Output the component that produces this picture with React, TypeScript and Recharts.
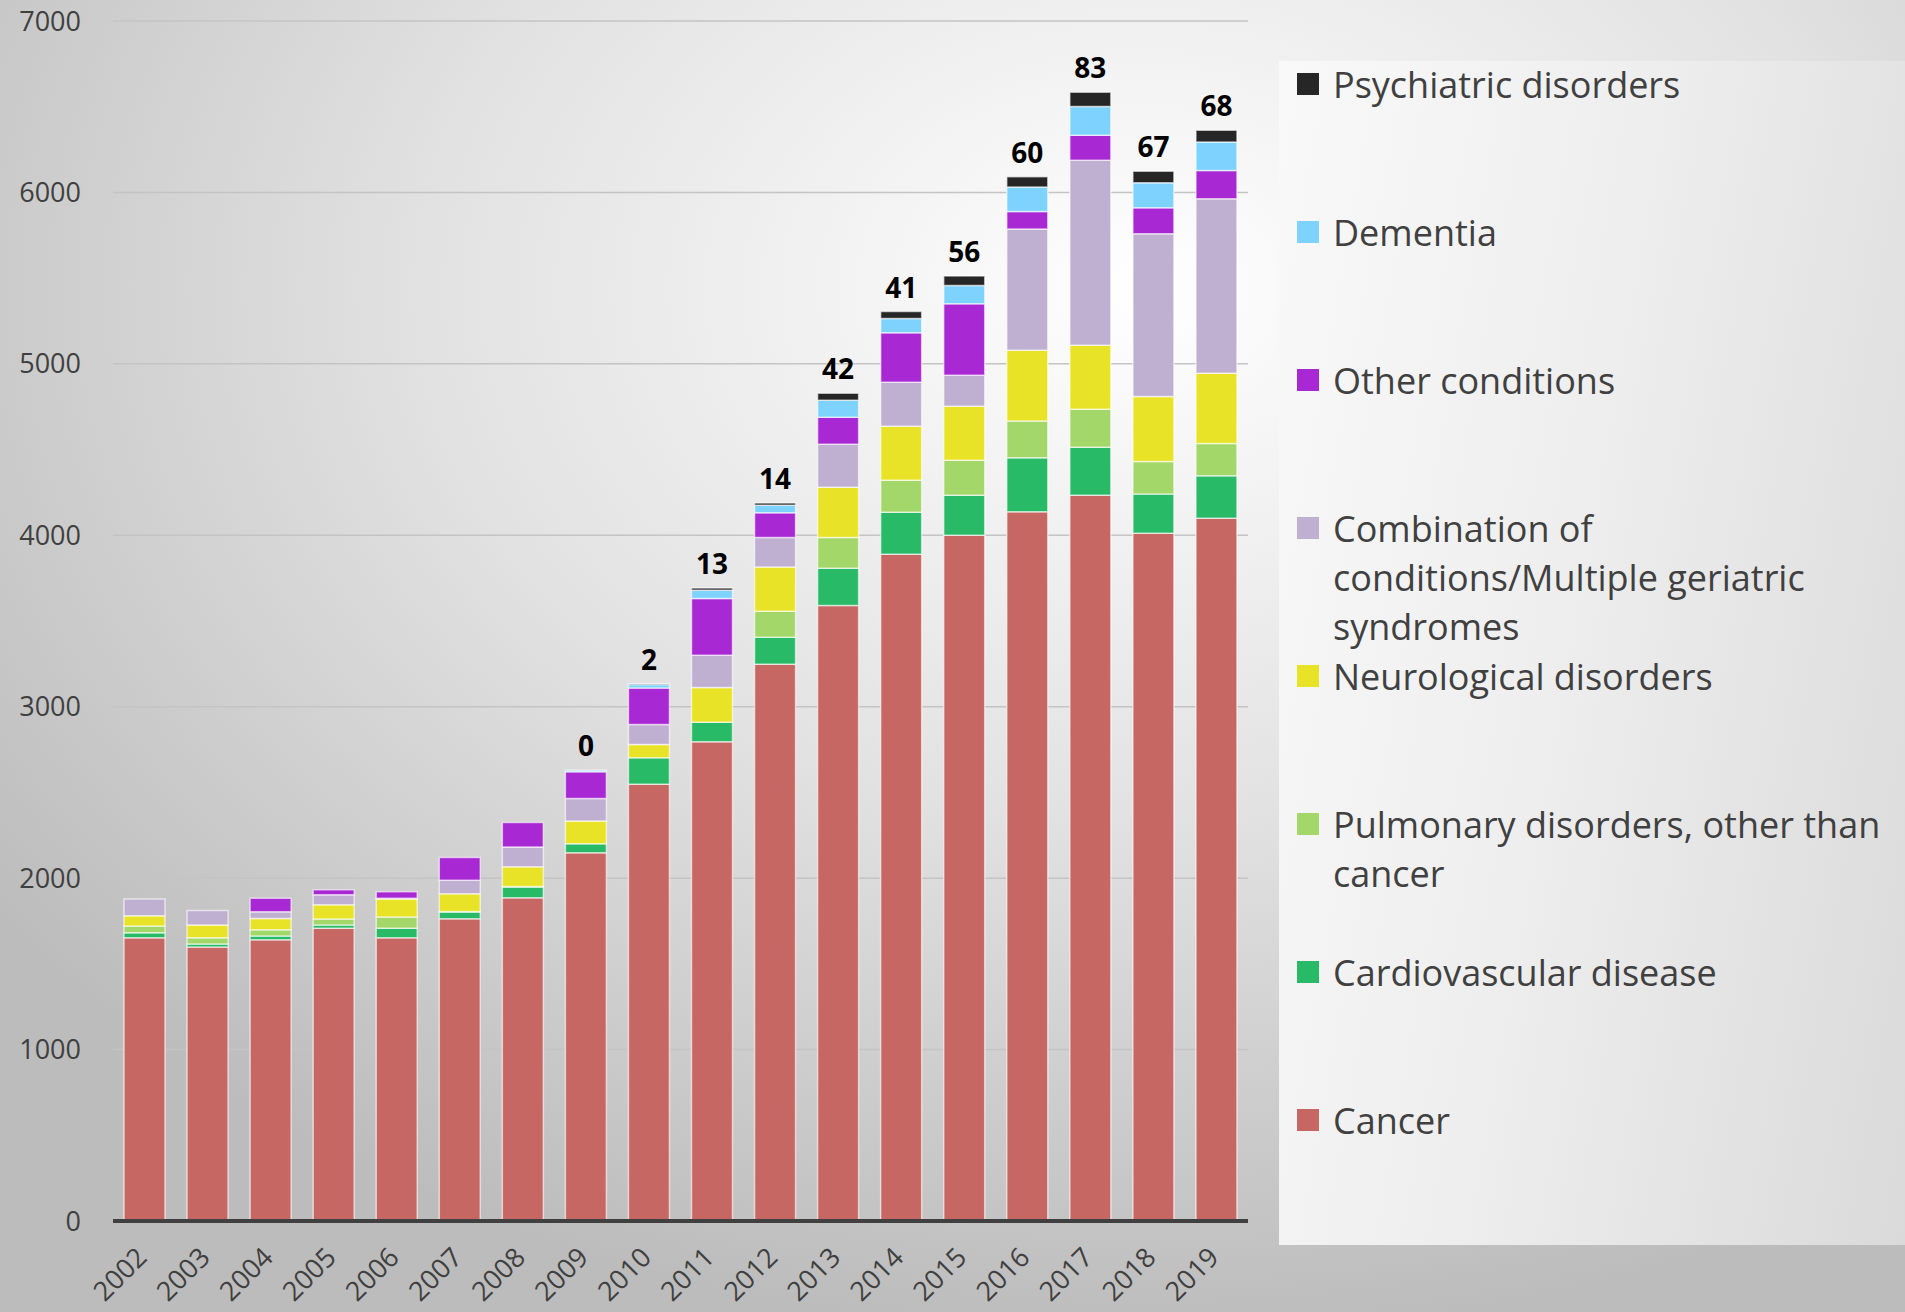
import { ComposedChart, Bar, Line, XAxis, YAxis, CartesianGrid, Legend, LabelList } from 'recharts';

// values, bottom of the stack first
const years = ['2002', '2003', '2004', '2005', '2006', '2007', '2008', '2009', '2010', '2011', '2012', '2013', '2014', '2015', '2016', '2017', '2018', '2019'];
const cancer = [1652, 1598, 1641, 1708, 1652, 1763, 1886, 2148, 2547, 2795, 3248, 3590, 3889, 4000, 4138, 4233, 4012, 4099];
const cardiovascular = [29, 18, 22, 18, 56, 40, 62, 52, 156, 115, 157, 218, 245, 233, 315, 280, 229, 249];
const pulmonary = [40, 36, 36, 36, 65, 3, 3, 0, 0, 0, 152, 179, 187, 204, 214, 222, 189, 187];
const neurological = [60, 74, 65, 83, 105, 103, 116, 133, 76, 202, 258, 293, 315, 315, 412, 373, 380, 410];
const combination = [98, 85, 40, 58, 5, 78, 114, 131, 117, 188, 172, 251, 256, 181, 707, 1079, 949, 1018];
const otherConditions = [0, 0, 78, 29, 38, 134, 143, 156, 213, 331, 144, 157, 290, 418, 103, 146, 152, 165];
const dementia = [0, 0, 0, 0, 0, 0, 0, 10, 21, 48, 44, 99, 82, 106, 142, 168, 146, 166];
const psychiatric = [null, null, null, null, null, null, null, 0, 2, 13, 14, 42, 41, 56, 60, 83, 67, 68];
const yTicks = [0, 1000, 2000, 3000, 4000, 5000, 6000, 7000];

const data = years.map((year, i) => {
  const row = {
    year,
    cancer: cancer[i],
    cardiovascular: cardiovascular[i],
    pulmonary: pulmonary[i],
    neurological: neurological[i],
    combination: combination[i],
    other: otherConditions[i],
    dementia: dementia[i],
    psychiatric: psychiatric[i],
  };
  // top of the stack, only used to hang the psychiatric labels on
  const total = cancer[i] + cardiovascular[i] + pulmonary[i] + neurological[i] + combination[i] + otherConditions[i] + dementia[i] + (psychiatric[i] ?? 0);
  return { ...row, total };
});

const series = [
  { key: 'cancer', name: 'Cancer', color: '#c76763' },
  { key: 'cardiovascular', name: 'Cardiovascular disease', color: '#29ba68' },
  { key: 'pulmonary', name: 'Pulmonary disorders, other than\ncancer', color: '#a3d76a' },
  { key: 'neurological', name: 'Neurological disorders', color: '#e8e326' },
  { key: 'combination', name: 'Combination of\nconditions/Multiple geriatric\nsyndromes', color: '#bfafd0' },
  { key: 'other', name: 'Other conditions', color: '#a828d4' },
  { key: 'dementia', name: 'Dementia', color: '#7dd3fd' },
  { key: 'psychiatric', name: 'Psychiatric disorders', color: '#262626' },
];

const FONT = "'Open Sans', sans-serif";

const YearTick = ({ x, y, payload }: any) => (
  <g transform={`translate(${x + 4},${y + 38})`}>
    <text textAnchor="end" transform="rotate(-45)" fill="#404040" fontSize={27} fontFamily={FONT}>
      {payload.value}
    </text>
  </g>
);

const renderLegend = () => (
  <div style={{ position: 'relative', width: 626, height: 1150 }}>
    {[...series].reverse().map((s, i) => (
      <div key={s.key} style={{ position: 'absolute', left: 18, top: 2 + i * 148, display: 'flex', alignItems: 'flex-start' }}>
        <span style={{ width: 22, height: 22, marginTop: 13, marginRight: 14, background: s.color, flex: 'none' }} />
        <span style={{ whiteSpace: 'pre-line', fontSize: 36, lineHeight: '49px', color: '#404040', fontFamily: FONT }}>
          {s.name}
        </span>
      </div>
    ))}
  </div>
);

export default function App() {
  return (
    <div
      style={{
        position: 'absolute',
        left: 0,
        top: 0,
        width: 1905,
        height: 1312,
        overflow: 'hidden',
        fontFamily: FONT,
        background: 'radial-gradient(ellipse 75% 80% at 60% 22%, #ffffff 0%, #f6f6f6 15%, #e2e2e2 50%, #cbcbcb 80%, #bcbcbc 100%)',
      }}
    >
      <div
        style={{
          position: 'absolute',
          left: 1279,
          top: 61,
          width: 626,
          height: 1184,
          background: 'linear-gradient(100deg, #f9f9f9 0%, #eeeeee 45%, #dadada 100%)',
        }}
      />
      <div style={{ position: 'absolute', left: 0, top: 0 }}>
        <ComposedChart width={1905} height={1312} data={data} margin={{ top: 21, right: 657, bottom: 0, left: 0 }}>
          <CartesianGrid vertical={false} stroke="#c4c4c4" strokeWidth={1.5} />
          <XAxis
            dataKey="year"
            height={91}
            tickLine={false}
            tickSize={0}
            tickMargin={0}
            axisLine={{ stroke: '#404040', strokeWidth: 4 }}
            tick={<YearTick />}
            interval={0}
          />
          <YAxis
            width={113}
            domain={[0, 7000]}
            ticks={yTicks}
            axisLine={false}
            tickLine={false}
            tickSize={0}
            tickMargin={32}
            tick={{ fill: '#404040', fontSize: 27, fontFamily: FONT }}
          />
          <Legend
            layout="vertical"
            align="center"
            verticalAlign="middle"
            content={renderLegend}
            wrapperStyle={{ position: 'absolute', left: 1279, top: 58, width: 626 }}
          />
          {series.map((s) => (
            <Bar
              key={s.key}
              dataKey={s.key}
              name={s.name}
              stackId="a"
              fill={s.color}
              stroke="rgba(255,255,255,0.6)"
              strokeWidth={1.5}
              barSize={41}
              isAnimationActive={false}
            />
          ))}
          <Line
            dataKey="total"
            stroke="none"
            dot={false}
            activeDot={false}
            legendType="none"
            isAnimationActive={false}
          >
            <LabelList dataKey="psychiatric" position="top" offset={14} fill="#000" fontSize={28} fontWeight={700} fontFamily={FONT} />
          </Line>
        </ComposedChart>
      </div>
    </div>
  );
}
